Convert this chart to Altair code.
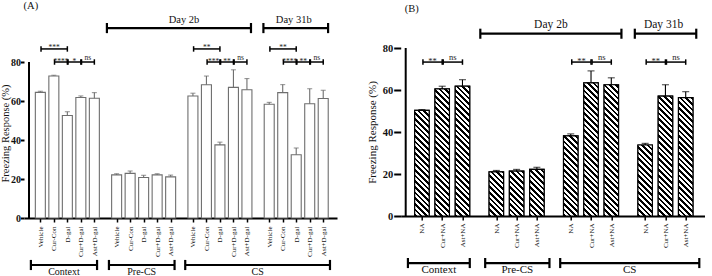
import math
import altair as alt
import pandas as pd

FONT = "Liberation Serif, Times New Roman, serif"

# ---------------- data: panel A ----------------
A_TREATMENTS = ["Vehicle", "Cur-Con", "D-gal", "Cur+D-gal", "Ast+D-gal"]
A_CONTEXT = [64.4, 72.8, 52.6, 61.8, 61.4]
A_CONTEXT_SEM = [0.6, 0.4, 1.9, 0.8, 2.9]
A_PRECS = [22.1, 22.9, 20.8, 22.1, 21.1]
A_PRECS_SEM = [0.6, 1.2, 1.1, 0.6, 0.9]
A_CS_2B = [62.6, 68.3, 37.5, 67.0, 65.8]
A_CS_2B_SEM = [1.4, 4.5, 1.4, 9.0, 5.7]
A_CS_31B = [58.3, 64.3, 32.4, 58.6, 61.3]
A_CS_31B_SEM = [1.0, 4.1, 3.5, 7.7, 4.2]
# (block, from, to, tier, label)
A_SIG = [
    (0, 0, 2, "top", "***"), (0, 1, 2, "sub", "****"), (0, 2, 3, "sub", "*"), (0, 3, 4, "sub", "ns"),
    (2, 0, 2, "top", "**"), (2, 1, 2, "sub", "***"), (2, 2, 3, "sub", "**"), (2, 3, 4, "sub", "ns"),
    (3, 0, 2, "top", "**"), (3, 1, 2, "sub", "****"), (3, 2, 3, "sub", "**"), (3, 3, 4, "sub", "ns"),
]

# ---------------- data: panel B ----------------
B_TREATMENTS = ["NA", "Cur+NA", "Ast+NA"]
B_CONTEXT = [50.3, 60.5, 61.8]
B_CONTEXT_SEM = [0.4, 1.3, 3.1]
B_PRECS = [21.0, 21.4, 22.2]
B_PRECS_SEM = [0.7, 0.8, 1.0]
B_CS_2B = [38.2, 63.4, 62.5]
B_CS_2B_SEM = [0.9, 5.7, 3.3]
B_CS_31B = [33.8, 57.1, 56.4]
B_CS_31B_SEM = [0.8, 5.4, 2.8]
B_SIG = [
    (0, 0, 1, "sub", "**"), (0, 1, 2, "sub", "ns"),
    (2, 0, 1, "sub", "**"), (2, 1, 2, "sub", "ns"),
    (3, 0, 1, "sub", "**"), (3, 1, 2, "sub", "ns"),
]

SECTIONS = ["Context", "Pre-CS", "CS"]
DAYS = ["Day 2b", "Day 31b"]
PANEL_LABELS = ["(A)", "(B)"]
Y_TICKS = [0, 20, 40, 60, 80]
Y_TITLE = "Freezing Response (%)"


def hatch_fill(w, h, period=4.0, frac=0.47):
    """Diagonal '\\' stripes via a sharp-stop linear gradient (bbox units)."""
    k = (w + h) / (w * w + h * h)
    L = (w + h) / math.sqrt(2)
    n = L / period
    stops = []
    j = 0
    while j / n < 1:
        a = j / n
        b = min((j + frac) / n, 1.0)
        c = min((j + 1) / n, 1.0)
        stops += [
            {"offset": round(a, 5), "color": "black"},
            {"offset": round(b, 5), "color": "black"},
            {"offset": round(b, 5), "color": "white"},
            {"offset": round(c, 5), "color": "white"},
        ]
        j += 1
    return {"gradient": "linear", "x1": 0, "y1": 1, "x2": round(k * w, 5),
            "y2": round(1 - k * h, 5), "stops": stops}


def make_panel(p):
    n = len(p["names"])
    gap = p["gap"]

    def pos(k, i):
        return round(k * (n - 1 + gap) + i, 2)

    rows = []
    for k, (vals, sems) in enumerate(p["blocks"]):
        for i, (v, s) in enumerate(zip(vals, sems)):
            rows.append({"pos": pos(k, i), "val": v, "top": round(v + s, 2),
                         "name": p["names"][i]})
    df = pd.DataFrame(rows)
    positions = [r["pos"] for r in rows]
    label_expr = "".join("datum.value == %r ? '%s' : " % (r["pos"], r["name"]) for r in rows) + "''"

    xs = alt.Scale(domain=p["xdom"], nice=False, zero=False)
    ys = alt.Scale(domain=[0, p["ymax"]], nice=False, zero=False)
    px = p["pxu"]

    x_axis = alt.Axis(values=positions, labelExpr=label_expr, title=" ", titleFontSize=1,
                      titlePadding=0,
                      labelAngle=-90, labelFontSize=7, labelPadding=p["xlabpad"],
                      labelFont=FONT, labelColor="#111",
                      tickSize=4, tickWidth=1.5, tickColor="black",
                      domainWidth=2, domainColor="black", labelOverlap=False,
                      grid=False)
    y_axis = alt.Axis(values=Y_TICKS, title=Y_TITLE, labelFontSize=p["ylabfs"],
                      labelFont=FONT, titleFont=FONT, labelColor="#111", titleColor="#111",
                      labelFontWeight="bold", labelPadding=p["ylabpad"], tickSize=p["yticksize"],
                      tickWidth=2, tickColor="black", domain=False, titleFontSize=p["ytitlefs"],
                      titleFontWeight="normal", titlePadding=p["titlepad"],
                      grid=False, labelOverlap=False)

    # every layer carries the identical axis spec, so the merged axis is unambiguous
    def X(f):
        return alt.X(f, type="quantitative", scale=xs, axis=x_axis)

    def Y(f):
        return alt.Y(f, type="quantitative", scale=ys, axis=y_axis)

    layers = [alt.Chart(df).mark_bar(size=p["barw"], fill="white", stroke=p["barstroke"],
                                     strokeWidth=1.1).encode(x=X("pos"), y=Y("val"))]

    # y axis line, from 0 to 80 only
    layers.append(alt.Chart(pd.DataFrame([{"pos": p["xdom"][0], "y0": 0, "y1": 80}]))
                  .mark_rule(color="black", strokeWidth=2)
                  .encode(x=X("pos"), y=Y("y0"), y2="y1"))

    if p["hatched"]:
        for r in rows:
            g = hatch_fill(p["barw"], r["val"] * px)
            layers.append(
                alt.Chart(pd.DataFrame([r])).mark_bar(
                    size=p["barw"], fill=g, stroke="black", strokeWidth=1.2
                ).encode(x=X("pos"), y=Y("val"))
            )

    # error whiskers and caps
    layers.append(alt.Chart(df).mark_rule(color=p["barstroke"], strokeWidth=1.1)
                  .encode(x=X("pos"), y=Y("val"), y2="top"))
    layers.append(alt.Chart(df).mark_tick(orient="horizontal", size=p["capw"],
                                          thickness=1.1, color=p["barstroke"])
                  .encode(x=X("pos"), y=Y("top")))

    # significance brackets
    srows, scaps = [], []
    for (k, a, b, tier, lab) in p["sig"]:
        lvl = p["sub_lvl"] if tier == "sub" else p["top_lvl"]
        x1 = pos(k, a) + 0.05
        x2 = pos(k, b) + 0.0
        srows.append({"x1": x1, "x2": x2, "lvl": lvl, "mid": (x1 + x2) / 2,
                      "lab": lab, "star": "*" in lab})
        c = p["sig_cap"]
        scaps += [{"x": x1, "lo": lvl - c, "hi": lvl + c},
                  {"x": x2, "lo": lvl - c, "hi": lvl + c}]
    sdf = pd.DataFrame(srows)
    layers.append(alt.Chart(sdf).mark_rule(color="black", strokeWidth=1.5)
                  .encode(x=X("x1"), x2="x2", y=Y("lvl")))
    layers.append(alt.Chart(pd.DataFrame(scaps)).mark_rule(color="black", strokeWidth=1.5)
                  .encode(x=X("x"), y=Y("lo"), y2="hi"))
    layers.append(alt.Chart(sdf[sdf["star"]]).mark_text(
        font=FONT, fontSize=p["sigfs"], baseline="alphabetic", dy=1.5, color="#222")
        .encode(x=X("mid"), y=Y("lvl"), text="lab:N"))
    layers.append(alt.Chart(sdf[~sdf["star"]]).mark_text(
        font=FONT, fontSize=p["sigfs"], baseline="alphabetic", dy=-2, color="#222")
        .encode(x=X("mid"), y=Y("lvl"), text="lab:N"))

    # day headers and section brackets
    hrows, hcaps = [], []
    for (label, k0, i0, k1, i1, l_off, r_off, lvl, tlvl, dx, fs, cap) in p["brackets"]:
        x1 = pos(k0, i0) + l_off
        x2 = pos(k1, i1) + r_off
        hrows.append({"x1": x1, "x2": x2, "lvl": lvl, "tl": tlvl,
                      "mid": (x1 + x2) / 2, "lab": label})
        hcaps += [{"x": x1, "lo": lvl - cap, "hi": lvl + cap},
                  {"x": x2, "lo": lvl - cap, "hi": lvl + cap}]
        layers.append(alt.Chart(pd.DataFrame([hrows[-1]])).mark_text(
            font=FONT, fontSize=float(fs), baseline="alphabetic", align="center",
            dx=float(dx), color="#111")
            .encode(x=X("mid"), y=Y("tl"), text="lab:N"))
    hdf = pd.DataFrame(hrows)
    layers.append(alt.Chart(hdf).mark_rule(color="black", strokeWidth=2.2)
                  .encode(x=X("x1"), x2="x2", y=Y("lvl")))
    layers.append(alt.Chart(pd.DataFrame(hcaps)).mark_rule(color="black", strokeWidth=2.2)
                  .encode(x=X("x"), y=Y("lo"), y2="hi"))

    # panel label, drawn the same way as the day headers
    layers.append(alt.Chart(pd.DataFrame([{"mid": p["plab_x"], "tl": p["plab_y"],
                                           "lab": p["plab"]}])).mark_text(
        font=FONT, fontSize=10.5, baseline="alphabetic", align="center", dx=0.0, color="#111")
        .encode(x=X("mid"), y=Y("tl"), text="lab:N"))

    return alt.layer(*layers).properties(width=p["width"], height=p["height"])


A_PX = 156 / 80
B_PX = 168 / 80

panelA = dict(
    names=A_TREATMENTS, gap=1.65,
    blocks=[(A_CONTEXT, A_CONTEXT_SEM), (A_PRECS, A_PRECS_SEM),
            (A_CS_2B, A_CS_2B_SEM), (A_CS_31B, A_CS_31B_SEM)],
    xdom=[-0.84, 21.6], width=313, height=170, ymax=170 / A_PX, pxu=A_PX,
    barw=10, barstroke="#6e6e6e", hatched=False, capw=5,
    sig=A_SIG, sub_lvl=80, top_lvl=86.7, sig_cap=1.4, sigfs=7.5,
    xlabpad=4, ylabfs=10, ylabpad=0, yticksize=3.5, ytitlefs=10.5, titlepad=0,
    brackets=[
        (DAYS[0], 1, 0, 2, 4, -0.72, 0.3, 97.4, 100.0, 5, 10.5, 2.6),
        (DAYS[1], 3, 0, 3, 4, -0.43, 0.36, 97.4, 100.0, -2, 10.5, 2.6),
        (SECTIONS[0], 0, 0, 0, 4, -0.7, 0.2, -24.1, -29.2, 0, 10, 2.6),
        (SECTIONS[1], 1, 0, 1, 4, -0.57, 0.29, -24.1, -29.2, 0, 10, 2.6),
        (SECTIONS[2], 2, 0, 3, 4, -0.57, 0.5, -24.1, -29.2, 0, 10, 2.6),
    ],
    plab=PANEL_LABELS[0], plab_x=-0.7, plab_y=107.2,
)

panelB = dict(
    names=B_TREATMENTS, gap=1.67,
    blocks=[(B_CONTEXT, B_CONTEXT_SEM), (B_PRECS, B_PRECS_SEM),
            (B_CS_2B, B_CS_2B_SEM), (B_CS_31B, B_CS_31B_SEM)],
    xdom=[-0.80, 13.7], width=304, height=168, ymax=80, pxu=B_PX,
    barw=14.5, barstroke="black", hatched=True, capw=7,
    sig=B_SIG, sub_lvl=73.3, top_lvl=80, sig_cap=1.3, sigfs=8.5,
    xlabpad=3, ylabfs=10.5, ylabpad=1, yticksize=7, ytitlefs=11, titlepad=5,
    brackets=[
        (DAYS[0], 1, 0, 2, 2, -0.79, 0.5, 86.8, 89.5, 0, 11.5, 2.4),
        (DAYS[1], 3, 0, 3, 2, -0.51, 0.52, 86.8, 89.5, -2, 11.5, 2.4),
        (SECTIONS[0], 0, 0, 0, 2, -0.69, 0.36, -22.4, -27.3, 0, 11, 2.4),
        (SECTIONS[1], 1, 0, 1, 2, -0.55, 0.62, -22.4, -27.3, 0, 11, 2.4),
        (SECTIONS[2], 2, 0, 3, 2, -0.52, 0.67, -22.4, -27.3, 0, 11, 2.4),
    ],
    plab=PANEL_LABELS[1], plab_x=-0.5, plab_y=97.1,
)

chart = alt.hconcat(make_panel(panelA), make_panel(panelB), spacing=63.7,
                    bounds="flush").properties(
    padding={"left": 0, "top": 0, "right": 0, "bottom": 0}
).configure_view(strokeWidth=0).configure_axis(
    labelFont=FONT, titleFont=FONT, labelOverlap=False, grid=False
)

chart.save("out.html", embed_options={"renderer": "svg", "actions": False})
